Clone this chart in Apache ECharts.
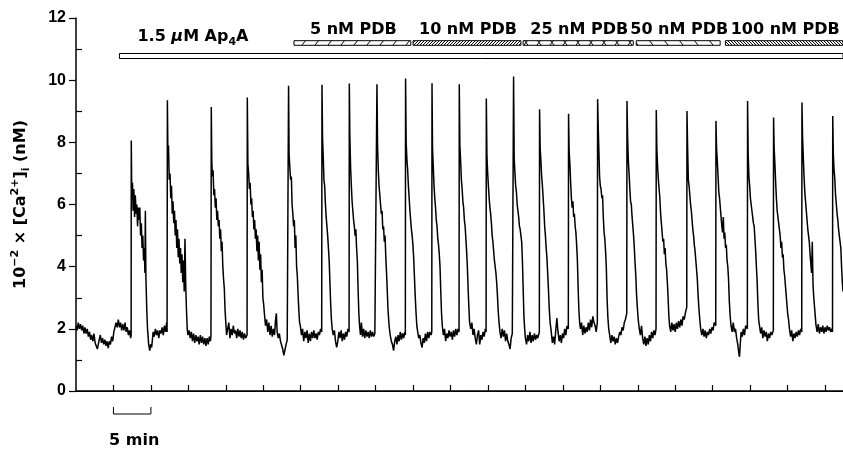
<!DOCTYPE html>
<html>
<head>
<meta charset="utf-8">
<script src="https://cdn.jsdelivr.net/npm/echarts@6/dist/echarts.min.js"></script>
<style>
html, body { margin: 0; padding: 0; background: #fff; }
#chart { width: 843px; height: 449px; }
</style>
</head>
<body>
<div id="chart"></div>
<script>
// time in min, [Ca2+]i in units of 100 nM
const trace = [
  [0,2.1],[0.15,1.95],[0.3,2.2],[0.45,2.0],[0.6,2.15],[0.75,1.95],[0.9,2.1],[1.05,1.85],[1.2,2.05],[1.35,1.85],[1.5,2.0],[1.65,1.75],[1.8,1.9],[1.95,1.65],[2.1,1.8],[2.25,1.6],[2.4,1.85],[2.55,1.55],[2.7,1.6],[2.85,1.35],[2.95,1.4],[3.1,1.65],[3.25,1.8],[3.4,1.55],[3.55,1.7],[3.7,1.5],[3.85,1.65],[4.0,1.45],[4.15,1.6],[4.3,1.38],[4.45,1.6],[4.6,1.5],[4.75,1.75],[4.9,1.6],[5.05,1.9],[5.2,1.95],[5.35,2.2],[5.5,2.05],[5.65,2.3],[5.8,2.05],[5.95,2.2],[6.1,1.95],[6.25,2.15],[6.4,1.95],[6.55,2.2],[6.7,1.9],[6.85,2.05],[7.0,1.8],[7.15,1.95],[7.3,1.7],
  [7.36,1.8],[7.38,8.06],[7.45,6.2],[7.54,6.7],[7.62,5.8],[7.72,6.5],[7.82,5.6],[7.92,6.3],[8.02,5.7],[8.12,6.0],[8.22,5.3],[8.32,5.9],[8.42,5.5],[8.52,5.9],[8.62,5.0],[8.72,5.4],[8.82,4.6],[8.92,5.0],[9.02,4.2],[9.12,4.6],[9.2,3.8],[9.26,5.8],[9.33,3.7],[9.45,2.6],[9.55,2.0],[9.7,1.5],[9.85,1.3],[9.95,1.5],
  [10.1,1.4],[10.3,1.9],[10.45,1.75],[10.6,2.0],[10.75,1.8],[10.9,1.95],[11.05,1.7],[11.2,1.95],[11.35,1.85],[11.5,2.05],[11.65,1.8],[11.8,2.1],[11.95,1.9],[12.1,2.2],[12.16,1.9],
  [12.2,9.35],[12.27,7.6],[12.35,7.9],[12.45,6.8],[12.55,7.0],[12.65,6.2],[12.75,6.6],[12.85,5.7],[12.95,6.1],[13.05,5.4],[13.15,5.8],[13.25,5.0],[13.35,5.5],[13.45,4.6],[13.55,5.2],[13.65,4.3],[13.75,4.9],[13.85,4.1],[13.95,4.6],[14.05,3.8],[14.15,4.4],[14.25,3.5],[14.35,4.2],[14.45,3.2],[14.55,4.9],[14.65,3.4],[14.75,2.6],[14.85,2.0],[14.95,1.8],
  [15.1,1.95],[15.25,1.7],[15.4,1.9],[15.55,1.6],[15.7,1.85],[15.85,1.55],[16.0,1.8],[16.15,1.6],[16.3,1.75],[16.45,1.5],[16.6,1.8],[16.75,1.55],[16.9,1.75],[17.05,1.5],[17.2,1.7],[17.35,1.45],[17.5,1.7],[17.65,1.5],[17.8,1.75],[17.95,1.6],[18.02,1.8],
  [18.06,9.14],[18.13,7.4],[18.2,6.9],[18.3,7.1],[18.4,6.3],[18.5,6.5],[18.6,5.9],[18.7,6.2],[18.8,5.5],[18.9,5.8],[19.0,5.3],[19.1,5.5],[19.2,4.9],[19.3,5.2],[19.4,4.5],[19.5,4.8],[19.6,4.0],[19.7,3.6],[19.8,3.3],[19.9,2.6],[20.0,2.2],[20.1,1.8],
  [20.25,2.0],[20.4,2.2],[20.55,1.7],[20.7,2.0],[20.85,1.8],[21.0,2.1],[21.15,1.85],[21.3,1.95],[21.45,1.7],[21.6,2.0],[21.75,1.75],[21.9,1.95],[22.05,1.7],[22.2,1.9],[22.35,1.65],[22.5,1.85],[22.65,1.7],[22.84,1.8],
  [22.87,9.44],[22.95,7.3],[23.05,7.0],[23.15,6.5],[23.25,6.7],[23.35,6.0],[23.45,6.2],[23.55,5.6],[23.65,5.8],[23.75,5.2],[23.85,5.5],[23.95,4.9],[24.05,5.2],[24.15,4.5],[24.25,5.0],[24.35,4.2],[24.45,4.8],[24.55,3.9],[24.65,4.4],[24.75,3.5],[24.85,3.9],[24.95,3.0],[25.05,2.8],[25.15,2.5],[25.3,2.1],
  [25.45,2.3],[25.6,1.9],[25.75,2.2],[25.9,1.8],[26.05,2.1],[26.2,1.75],[26.35,2.0],[26.5,1.8],[26.65,2.3],[26.75,2.5],[26.85,1.9],[27.0,1.7],[27.15,1.85],[27.3,1.6],[27.45,1.55],[27.6,1.35],[27.75,1.15],[27.9,1.2],[28.05,1.5],[28.2,1.65],[28.35,1.7],
  [28.38,9.82],[28.45,7.6],[28.55,7.2],[28.65,6.8],[28.75,6.9],[28.85,6.0],[28.95,5.7],[29.05,5.3],[29.15,5.5],[29.25,4.6],[29.35,5.0],[29.45,4.0],[29.55,3.7],[29.65,3.1],[29.75,2.6],[29.85,2.2],
  [29.95,2.1],[30.1,1.8],[30.25,2.0],[30.4,1.6],[30.55,1.9],[30.7,1.7],[30.85,1.95],[31.0,1.55],[31.15,1.85],[31.3,1.6],[31.45,1.9],[31.6,1.7],[31.75,1.95],[31.9,1.7],[32.05,1.85],[32.2,1.65],[32.35,1.9],[32.5,1.8],[32.65,2.0],[32.8,1.9],
  [32.84,9.85],[32.92,8.1],[33.0,7.6],[33.1,6.8],[33.2,6.6],[33.3,6.0],[33.4,5.6],[33.5,5.3],[33.6,5.0],[33.7,4.6],[33.8,4.2],[33.9,3.5],[34.0,2.8],[34.1,2.3],[34.2,2.0],
  [34.35,1.8],[34.5,1.95],[34.65,1.6],[34.8,1.4],[34.95,1.6],[35.1,1.9],[35.25,1.7],[35.4,1.95],[35.55,1.6],[35.7,1.85],[35.85,1.65],[36.0,1.9],[36.15,1.75],[36.3,2.0],[36.46,1.9],
  [36.49,9.89],[36.56,8.2],[36.66,7.2],[36.76,6.6],[36.86,6.1],[36.96,5.8],[37.06,5.5],[37.16,5.3],[37.26,5.0],[37.36,5.2],[37.46,4.6],[37.56,4.2],[37.66,3.3],[37.76,2.5],[37.86,2.1],
  [37.98,1.8],[38.1,2.2],[38.25,1.75],[38.4,2.0],[38.55,1.7],[38.7,1.95],[38.85,1.75],[39.0,1.9],[39.15,1.7],[39.3,1.95],[39.45,1.75],[39.6,1.9],[39.75,1.75],[39.9,1.85],[40.14,1.8],
  [40.18,9.87],[40.26,7.9],[40.36,7.1],[40.46,6.6],[40.56,6.3],[40.66,6.0],[40.76,5.7],[40.86,5.8],[40.96,5.2],[41.06,5.3],[41.16,4.8],[41.26,5.0],[41.36,4.3],[41.46,3.8],[41.56,3.2],[41.66,2.6],[41.8,2.1],[41.95,1.8],
  [42.1,1.6],[42.25,1.5],[42.4,1.3],[42.55,1.6],[42.7,1.75],[42.85,1.5],[43.0,1.8],[43.15,1.6],[43.3,1.9],[43.45,1.65],[43.6,1.85],[43.75,1.7],[43.9,1.9],[43.97,1.8],
  [44.0,10.05],[44.08,8.0],[44.18,7.45],[44.28,7.1],[44.38,6.6],[44.48,6.2],[44.58,5.8],[44.68,5.5],[44.78,5.2],[44.88,5.0],[44.98,4.7],[45.08,4.3],[45.18,3.7],[45.28,3.1],[45.38,2.6],[45.5,2.1],
  [45.62,1.9],[45.75,1.7],[45.9,1.8],[46.05,1.55],[46.2,1.4],[46.35,1.7],[46.5,1.55],[46.65,1.85],[46.8,1.6],[46.95,1.9],[47.1,1.7],[47.25,1.9],[47.4,1.8],[47.5,1.9],
  [47.53,9.9],[47.6,7.8],[47.7,7.2],[47.8,6.6],[47.9,6.2],[48.0,5.9],[48.1,5.5],[48.2,5.3],[48.3,4.9],[48.4,4.7],[48.5,4.4],[48.6,4.0],[48.7,3.2],[48.8,2.5],[48.9,2.1],
  [49.05,1.8],[49.2,2.0],[49.35,1.6],[49.5,1.85],[49.65,1.7],[49.8,1.95],[49.95,1.75],[50.1,1.9],[50.25,1.65],[50.4,1.95],[50.55,1.75],[50.7,2.0],[50.85,1.8],[51.0,2.0],[51.14,1.9],
  [51.17,9.87],[51.25,7.9],[51.35,7.4],[51.45,6.8],[51.55,6.5],[51.65,6.1],[51.75,5.9],[51.85,5.5],[51.95,5.3],[52.05,4.9],[52.15,4.5],[52.25,4.0],[52.35,3.3],[52.45,2.7],[52.55,2.2],
  [52.7,2.0],[52.85,2.2],[53.0,1.8],[53.15,2.0],[53.3,1.7],[53.45,1.5],[53.6,1.8],[53.75,1.95],[53.9,1.5],[54.05,1.8],[54.2,1.65],[54.35,1.9],[54.5,1.75],[54.65,2.0],[54.75,1.9],
  [54.78,9.41],[54.86,7.6],[54.96,7.0],[55.06,6.6],[55.16,6.2],[55.26,5.9],[55.36,5.7],[55.46,5.4],[55.56,5.0],[55.66,4.8],[55.76,4.5],[55.86,4.2],[55.96,4.0],[56.06,3.8],[56.16,3.5],[56.26,3.1],[56.36,2.6],[56.48,2.2],
  [56.6,1.9],[56.75,1.7],[56.9,2.0],[57.05,1.75],[57.2,1.95],[57.35,1.6],[57.5,1.85],[57.65,1.6],[57.8,1.5],[57.95,1.35],[58.1,1.7],[58.25,1.85],[58.39,1.9],
  [58.42,10.12],[58.5,7.5],[58.6,7.0],[58.7,6.6],[58.8,6.4],[58.9,6.0],[59.0,5.8],[59.1,5.6],[59.2,5.3],[59.3,5.2],[59.4,5.0],[59.5,4.8],[59.6,4.2],[59.7,3.3],[59.8,2.4],[59.9,2.0],
  [60.0,1.7],[60.15,1.5],[60.3,1.8],[60.45,1.6],[60.6,1.9],[60.75,1.55],[60.9,1.8],[61.05,1.6],[61.2,1.85],[61.35,1.65],[61.5,1.8],[61.65,1.7],[61.86,1.9],
  [61.89,9.06],[61.97,7.8],[62.07,7.4],[62.17,6.9],[62.27,6.6],[62.37,6.2],[62.47,5.8],[62.57,5.3],[62.67,5.0],[62.77,4.6],[62.87,4.3],[62.97,3.8],[63.07,3.3],[63.17,2.7],[63.3,2.2],
  [63.45,1.9],[63.6,1.55],[63.75,1.75],[63.9,1.5],[64.05,1.95],[64.2,2.35],[64.35,1.9],[64.5,1.6],[64.65,1.8],[64.8,1.55],[64.95,1.85],[65.1,1.7],[65.25,2.0],[65.4,1.8],[65.55,2.1],[65.73,2.0],
  [65.76,8.92],[65.84,7.7],[65.94,7.3],[66.04,6.7],[66.14,6.2],[66.24,5.9],[66.34,6.1],[66.44,5.6],[66.54,5.7],[66.64,5.3],[66.74,5.1],[66.84,4.7],[66.94,4.2],[67.04,3.3],[67.14,2.6],[67.24,2.2],
  [67.35,2.0],[67.5,2.2],[67.65,1.8],[67.8,2.1],[67.95,1.85],[68.1,2.05],[68.25,1.9],[68.4,2.2],[68.55,1.95],[68.7,2.3],[68.85,2.05],[69.0,2.4],[69.15,2.2],[69.3,2.1],[69.45,1.9],[69.6,2.2],
  [69.64,9.39],[69.72,8.5],[69.8,7.8],[69.9,6.9],[70.0,6.6],[70.1,6.5],[70.2,6.2],[70.3,6.3],[70.4,5.6],[70.5,5.1],[70.6,4.9],[70.7,4.5],[70.8,4.0],[70.9,3.0],[71.0,2.4],[71.12,2.0],
  [71.25,1.8],[71.4,1.55],[71.55,1.8],[71.7,1.6],[71.85,1.75],[72.0,1.5],[72.15,1.7],[72.3,1.55],[72.45,1.75],[72.6,1.9],[72.75,1.8],[72.9,2.05],[73.05,1.95],[73.2,2.2],[73.35,2.3],[73.53,2.5],
  [73.56,9.33],[73.64,8.2],[73.74,7.4],[73.84,7.0],[73.94,6.5],[74.04,6.1],[74.14,6.0],[74.24,5.6],[74.34,5.3],[74.44,5.0],[74.54,4.6],[74.64,4.1],[74.74,3.7],[74.84,3.1],[74.94,2.7],[75.06,2.3],
  [75.2,2.0],[75.35,1.8],[75.5,2.1],[75.65,1.7],[75.8,1.5],[75.95,1.75],[76.1,1.45],[76.25,1.7],[76.4,1.5],[76.55,1.8],[76.7,1.6],[76.85,1.9],[77.0,1.7],[77.15,1.95],[77.3,1.8],[77.44,2.0],
  [77.47,9.04],[77.55,7.8],[77.65,7.2],[77.75,6.8],[77.85,6.5],[77.95,6.2],[78.05,5.7],[78.15,5.4],[78.25,5.1],[78.35,4.8],[78.45,4.9],[78.55,4.4],[78.65,4.6],[78.75,4.1],[78.85,3.9],[78.95,3.5],[79.05,3.0],[79.15,2.4],[79.25,2.1],
  [79.4,1.9],[79.55,2.2],[79.7,1.95],[79.85,2.15],[80.0,1.9],[80.15,2.2],[80.3,2.0],[80.45,2.25],[80.6,2.05],[80.75,2.3],[80.9,2.1],[81.05,2.4],[81.2,2.3],[81.35,2.5],[81.54,2.7],
  [81.57,9.01],[81.65,7.9],[81.75,6.8],[81.85,6.6],[81.95,6.3],[82.05,6.0],[82.15,5.8],[82.25,5.5],[82.35,5.2],[82.45,5.0],[82.55,4.7],[82.65,4.5],[82.75,4.2],[82.85,3.9],[82.95,3.6],[83.05,3.1],[83.15,2.7],[83.28,2.3],
  [83.4,2.0],[83.55,1.8],[83.7,2.0],[83.85,1.75],[84.0,1.95],[84.15,1.7],[84.3,1.9],[84.45,1.8],[84.6,2.0],[84.75,1.85],[84.9,2.05],[85.05,1.95],[85.2,2.2],[85.41,2.1],
  [85.44,8.69],[85.52,7.8],[85.62,7.4],[85.72,6.9],[85.82,6.4],[85.92,6.2],[86.02,5.9],[86.12,5.6],[86.22,5.3],[86.32,5.1],[86.42,5.6],[86.52,4.9],[86.62,5.1],[86.72,4.6],[86.82,4.7],[86.92,4.2],[87.02,4.0],[87.12,3.6],[87.22,2.9],[87.34,2.4],
  [87.45,2.1],[87.6,1.9],[87.75,2.2],[87.9,1.9],[88.05,2.0],[88.2,1.7],[88.35,1.5],[88.5,1.2],[88.58,1.1],[88.68,1.5],[88.8,1.9],[88.95,1.75],[89.1,2.0],[89.25,1.8],[89.4,2.1],[89.63,2.0],
  [89.66,9.33],[89.74,7.6],[89.84,6.9],[89.94,6.6],[90.04,6.2],[90.14,6.0],[90.24,5.8],[90.34,5.6],[90.44,5.4],[90.54,5.3],[90.64,4.9],[90.74,4.5],[90.84,4.0],[90.94,3.5],[91.04,2.8],[91.14,2.3],
  [91.25,2.1],[91.4,1.85],[91.55,2.05],[91.7,1.7],[91.85,1.95],[92.0,1.75],[92.15,1.9],[92.3,1.6],[92.45,1.85],[92.6,1.7],[92.75,1.9],[92.9,1.8],[93.1,1.95],
  [93.13,8.8],[93.21,7.8],[93.31,7.3],[93.41,6.7],[93.51,6.2],[93.61,5.8],[93.71,5.6],[93.81,5.4],[93.91,5.2],[94.01,5.0],[94.11,4.6],[94.21,4.8],[94.31,4.3],[94.41,4.4],[94.51,3.9],[94.61,3.7],[94.71,3.4],[94.81,3.1],[94.91,2.8],[95.01,2.5],[95.13,2.3],
  [95.25,2.0],[95.4,1.75],[95.55,1.95],[95.7,1.6],[95.85,1.85],[96.0,1.7],[96.15,1.9],[96.3,1.75],[96.45,1.95],[96.6,1.8],[96.75,2.0],[96.89,1.9],
  [96.92,9.28],[97.0,8.2],[97.1,7.5],[97.2,6.9],[97.3,6.4],[97.4,6.1],[97.5,5.8],[97.6,5.5],[97.7,5.2],[97.8,5.0],[97.9,4.8],[98.0,4.4],[98.1,4.1],[98.2,3.8],[98.3,4.8],[98.4,3.4],[98.5,3.0],[98.6,2.7],[98.7,2.4],
  [98.8,2.1],[98.95,1.9],[99.1,2.15],[99.25,1.85],[99.4,2.05],[99.55,1.9],[99.7,2.1],[99.85,1.85],[100.0,2.05],[100.15,1.9],[100.3,2.1],[100.45,1.95],[100.6,2.05],[100.75,1.9],[100.9,2.0],[101.0,1.9],
  [101.03,8.85],[101.11,7.6],[101.21,7.1],[101.31,6.8],[101.41,6.3],[101.51,6.0],[101.61,5.7],[101.71,5.5],[101.81,5.2],[101.91,5.0],[102.01,4.8],[102.11,4.6],[102.21,4.0],[102.31,3.5],[102.4,3.2]
];

// treatment periods (min)
const drugLabels = ['{n|1.5 }{mu|μ}{n|M Ap}{sub|4}{n|A}', '{n|5 nM PDB}', '{n|10 nM PDB}', '{n|25 nM PDB}', '{n|50 nM PDB}', '{n|100 nM PDB}'];
const drugStart = [5.8, 29.1, 45.0, 59.7, 74.8, 86.7];
const drugEnd = [102.4, 44.7, 59.4, 74.4, 86.0, 102.4];

const yTicks = [0, 2, 4, 6, 8, 10, 12];
const yMinorTicks = [1, 3, 5, 7, 9, 11];
const xTicks = [5, 10, 15, 20, 25, 30, 35, 40, 45, 50, 55, 60, 65, 70, 75, 80, 85, 90, 95, 100];
const scaleBar = [5, 10];   // 5 min bar
const tMax = 102.4;

const FONT = 'DejaVu Sans';

function pattern(w, h, draw) {
    const c = document.createElement('canvas');
    c.width = w; c.height = h;
    const g = c.getContext('2d');
    g.fillStyle = '#fff';
    g.fillRect(0, 0, w, h);
    g.strokeStyle = '#000';
    g.lineWidth = 1;
    g.beginPath();
    draw(g);
    g.stroke();
    return { image: c, repeat: 'repeat' };
}

const fills = [
    '#fff',
    pattern(13, 5, g => { g.moveTo(3, 5); g.lineTo(7, 0); }),
    pattern(3, 3, g => { g.moveTo(0, 3); g.lineTo(3, 0); }),
    pattern(13, 5, g => { g.moveTo(4, 0); g.lineTo(8, 5); g.moveTo(8, 0); g.lineTo(4, 5); }),
    pattern(15, 5, g => { g.moveTo(4, 0); g.lineTo(8, 5); }),
    pattern(3, 3, g => { g.moveTo(0, 0); g.lineTo(3, 3); })
];

const rich = {
    n: { fontFamily: FONT, fontWeight: 'bold', fontSize: 16, lineHeight: 22, color: '#000' },
    mu: { fontFamily: FONT, fontWeight: 'bold', fontStyle: 'italic', fontSize: 16, lineHeight: 22, color: '#000' },
    sub: { fontFamily: FONT, fontWeight: 'bold', fontSize: 11, lineHeight: 22, verticalAlign: 'bottom', color: '#000' },
    sup: { fontFamily: FONT, fontWeight: 'bold', fontSize: 11, lineHeight: 22, verticalAlign: 'top', color: '#000' }
};

const chart = echarts.init(document.getElementById('chart'));

const option = {
    animation: false,
    backgroundColor: '#fff',
    grid: { left: 76, right: 0, top: 18, bottom: 58 },
    xAxis: [{
        type: 'value', min: 0, max: tMax,
        axisLine: { lineStyle: { color: '#000', width: 1.5 } },
        axisTick: { inside: true, length: 6, customValues: xTicks, lineStyle: { color: '#000', width: 1.2 } },
        axisLabel: { show: false },
        splitLine: { show: false }
    }, {
        type: 'value', min: 0, max: tMax, position: 'top',
        axisLine: { lineStyle: { color: '#000', width: 1 } },
        axisTick: { show: false },
        axisLabel: { show: false },
        splitLine: { show: false }
    }],
    yAxis: [{
        type: 'value', min: 0, max: 12, interval: 2,
        name: '{n|10}{sup|−2}{n| × [Ca}{sup|2+}{n|]}{sub|i}{n| (nM)}',
        nameLocation: 'middle', nameRotate: 90, nameGap: 44,
        nameTextStyle: { rich: rich },
        axisLine: { show: true, lineStyle: { color: '#000', width: 1.5 } },
        axisTick: { show: true, length: 7, customValues: yTicks, lineStyle: { color: '#000', width: 1.2 } },
        axisLabel: { margin: 10, color: '#000', fontFamily: 'Liberation Sans', fontWeight: 'bold', fontSize: 16 },
        splitLine: { show: false }
    }, {
        type: 'value', min: 0, max: 12, position: 'left',
        axisLine: { show: false },
        axisTick: { show: true, inside: true, length: 6, customValues: yMinorTicks, lineStyle: { color: '#000', width: 1.2 } },
        axisLabel: { show: false },
        splitLine: { show: false }
    }],
    series: [{
        type: 'line',
        data: trace,
        showSymbol: false,
        symbol: 'none',
        lineStyle: { color: '#000', width: 1.5 },
        clip: true
    }, {
        type: 'custom',
        data: drugStart.map((s, i) => [s, drugEnd[i]]),
        renderItem: function (params, api) {
            const i = params.dataIndex;
            const top = api.coord([0, 12])[1];
            const a = api.coord([api.value(0), 12]);
            const b = api.coord([api.value(1), 12]);
            // Ap4A bar sits on the lower row, PDB bars on the upper row
            const y0 = top + (i === 0 ? 35.5 : 22.7);
            const h = i === 0 ? 5 : 4.6;
            const tx = i === 0 ? a[0] + 18 : (a[0] + b[0]) / 2 + 1;
            const ty = i === 0 ? top + 19 : top + 11.5;
            return {
                type: 'group',
                children: [{
                    type: 'rect',
                    shape: { x: a[0], y: y0, width: b[0] - a[0], height: h },
                    style: { fill: fills[i], stroke: '#000', lineWidth: 1 }
                }, {
                    type: 'text',
                    x: tx, y: ty,
                    style: {
                        text: drugLabels[i], rich: rich,
                        align: i === 0 ? 'left' : 'center', textAlign: i === 0 ? 'left' : 'center',
                        verticalAlign: 'middle', textVerticalAlign: 'middle'
                    }
                }]
            };
        }
    }, {
        type: 'custom',
        data: [scaleBar],
        renderItem: function (params, api) {
            const a = api.coord([api.value(0), 0]);
            const b = api.coord([api.value(1), 0]);
            return {
                type: 'group',
                children: [{
                    type: 'polyline',
                    shape: { points: [[a[0], a[1] + 16], [a[0], a[1] + 23], [b[0], a[1] + 23], [b[0], a[1] + 16]] },
                    style: { stroke: '#000', lineWidth: 1, fill: null }
                }, {
                    type: 'text',
                    x: (a[0] + b[0]) / 2 + 2, y: a[1] + 50,
                    style: {
                        text: '5 min', fill: '#000',
                        font: 'bold 16px "DejaVu Sans"',
                        align: 'center', textAlign: 'center',
                        verticalAlign: 'middle', textVerticalAlign: 'middle'
                    }
                }]
            };
        }
    }]
};

chart.setOption(option);
</script>
</body>
</html>
